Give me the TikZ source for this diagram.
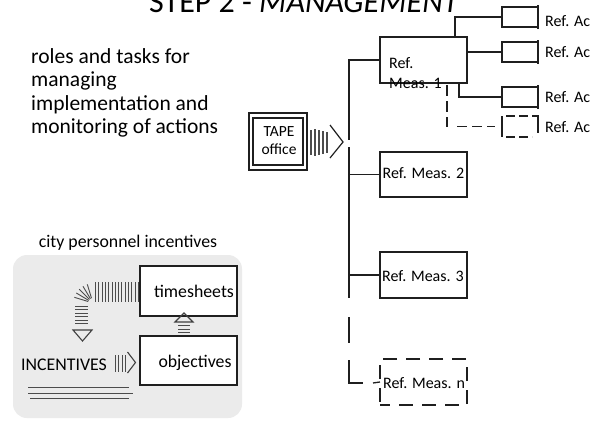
\documentclass[tikz,border=0pt]{standalone}
\usepackage{fontspec}
\setmainfont{Carlito}
\begin{document}
\begin{tikzpicture}[x=1pt,y=-1pt,
  ink/.style={draw=black!88, line width=1.3pt},
  thinink/.style={draw=black!75, line width=1pt},
  hatch/.style={draw=black!70, line width=0.9pt},
  boxwh/.style 2 args={rectangle, inner sep=0pt, outer sep=0pt, minimum width=#1pt, minimum height=#2pt},
  lbl/.style={inner sep=0pt, anchor=base west},
  reff/.style={font=\fontsize{16}{20}\selectfont},
  bigf/.style={font=\fontsize{21.5}{24}\selectfont},
  panelf/.style={font=\fontsize{17.8}{20}\selectfont},
  dashlong/.style={dash pattern=on 14pt off 9pt},
  dashmid/.style={dash pattern=on 11pt off 5pt},
]
\useasboundingbox (0,0) rectangle (600,432);
\fill[white] (0,0) rectangle (600,432);

% title
\node[lbl, font=\fontsize{32}{36}\selectfont] (title) at (149,12) {STEP 2 - \textit{MANAGEMENT}};

% left text
\node[lbl, bigf] (l1) at (31,63) {roles and tasks for};
\node[lbl, bigf] (l2) at (31,86.5) {managing};
\node[lbl, bigf] (l3) at (31,110) {implementation and};
\node[lbl, bigf] (l4) at (31,133.5) {monitoring of actions};

% TAPE office
\node[boxwh={58}{57}, ink, line width=1.2pt] (tape) at (278,141.5) {};
\node[boxwh={50}{47}, ink, line width=1.2pt] (tapein) at (278,141.5) {};
\node[align=center, inner sep=0pt, font=\fontsize{15.5}{18}\selectfont] (tapet) at (279,141) {TAPE\\office};
\foreach \x/\a/\b in {311/130/155,315/129/156,319/130/155,323/131/154,327/132/153}
  \draw[hatch, line width=1.1pt] (\x,\a) -- (\x,\b);
\coordinate (tip) at (343,142);
\draw[ink, line width=1.2pt] (330,125) -- (tip) -- (330,158);

% trunk
\coordinate (tTop) at (349,60);
\coordinate (tGapA) at (349,140);
\coordinate (tGapB) at (349,147);
\coordinate (tBot) at (349,298);
\coordinate (tDashA) at (349,317);
\coordinate (tDashB) at (349,343);
\coordinate (tNTop) at (349,360);
\coordinate (tNCorner) at (349,383);
\coordinate (tNEnd) at (363,383);
\coordinate (tNDash) at (373,383);

% measures
\node[boxwh={87}{46}, ink] (m1) at (423.5,60) {};
\node[boxwh={87}{45}, ink] (m2) at (423.5,174.5) {};
\node[boxwh={87}{46}, ink] (m3) at (423.5,275) {};
\node[boxwh={87}{46}, ink, dashlong, dash phase=4pt] (mn) at (423.5,382) {};

\node[lbl, reff] (m1a) at (389,68) {Ref.};
\node[lbl, reff] (m1b) at (389,88) {Meas. 1};
\node[lbl, reff] (m2t) at (382.5,178.5) {Ref. Meas. 2};
\node[lbl, reff] (m3t) at (382,281) {Ref. Meas. 3};
\node[lbl, reff] (mnt) at (383,388) {Ref. Meas. n};

\draw[ink] (m1.west) -- (tTop) -- (tGapA);
\draw[ink] (tGapB) -- (tBot);
\draw[ink] (m2.west -| tTop) -- (m2.west);
\draw[ink] (m3.west -| tTop) -- (m3.west);
\draw[ink] (tDashA) -- (tDashB);
\draw[ink] (tNTop) -- (tNCorner) -- (tNEnd);
\draw[ink] (tNDash) -- (mn.west);

% actions
\node[boxwh={36}{20}, ink] (a1) at (520,17) {};
\node[boxwh={36}{20}, ink] (a2) at (520,52) {};
\node[boxwh={36}{20}, ink] (a3) at (520,97) {};
\node[boxwh={36}{21}, inner sep=0pt] (a4) at (520,126.5) {};
\draw[ink] (a4.north west) -- (a4.south west);
\draw[ink] ([yshift=1pt]a4.north east) -- ([yshift=4pt]a4.south east);
\draw[ink, dash pattern=on 9pt off 4pt] ([xshift=4pt]a4.north west) -- (a4.north east);
\draw[ink, dash pattern=on 9pt off 4pt] ([xshift=4pt]a4.south west) -- ([xshift=-6pt]a4.south east);
\foreach \n in {a1,a2,a3}
  \draw[ink] ([yshift=2pt]\n.north east) -- ([yshift=-2pt]\n.south east);

\node[lbl, reff] (a1t) at (545,26) {Ref. Ac};
\node[lbl, reff] (a2t) at (545,57) {Ref. Ac};
\node[lbl, reff] (a3t) at (545,102) {Ref. Ac};
\node[lbl, reff] (a4t) at (545,132) {Ref. Ac};

\coordinate (j1) at (455,37);
\coordinate (j3) at (459,83);
\coordinate (j4) at (447,85);
\coordinate (j4b) at (447,127);
\coordinate (j4c) at (457,126.5);
\draw[ink] (j1) |- (a1.west);
\draw[ink] (a2.west -| m1.east) -- (a2.west);
\draw[ink] (j3) |- (a3.west);
\draw[ink, line width=1.1pt, dashmid] (j4) -- (j4b);
\draw[ink, dash pattern=on 10pt off 5pt, shorten >=7pt] (j4c) -- (a4.west);

% panel
\node[lbl, panelf, anchor=base] (ptitle) at (128,247.5) {city personnel incentives};
\node[boxwh={229}{163}, rounded corners=14pt, fill={rgb,255:red,235;green,235;blue,235}] (panel) at (127.5,336.5) {};
\node[boxwh={97}{50}, ink, fill=white, line width=1.2pt] (ts) at (188.5,291) {};
\node[boxwh={97}{49}, ink, fill=white, line width=1.2pt] (ob) at (188.5,360.5) {};
\node[inner sep=0pt, panelf] (tst) at (194,291) {timesheets};
\node[inner sep=0pt, panelf] (obt) at (195,363) {objectives};

% up arrow objectives -> timesheets
\draw[thinink, line width=1.1pt] (175,322) -- (184,313) -- (193,322) -- cycle;
\foreach \y in {325.5,329,332.5}
  \draw[hatch] (178,\y) -- (190,\y);

% curved hatched arrow timesheets -> incentives
\foreach \k in {0,...,13}
  \draw[hatch] ({95.5+3.3*\k},282) -- ({95.5+3.3*\k},301.5);
\foreach \a in {197,211,225,239,253}
  \draw[hatch] (93,303) ++(\a:5) -- ++(\a:14.5);
\foreach \y in {306,309.5,313,316.5,320,323.5}
  \draw[hatch] (75,\y) -- (88,\y);
\draw[thinink, line width=1.1pt] (73,330) -- (92,330) -- (82.5,341) -- cycle;

% INCENTIVES
\node[lbl, panelf] (inc) at (21,370) {INCENTIVES};
\foreach \x in {115,118.5,122,125.5}
  \draw[hatch] (\x,355) -- (\x,372);
\draw[thinink, line width=1.1pt] (127.5,352) -- (135.5,362.5) -- (127.5,373);
\draw[hatch] (28,387) -- (129,387);
\draw[hatch] (28,393) -- (133,393);
\draw[hatch] (30,398) -- (129,398);
\end{tikzpicture}
\end{document}
